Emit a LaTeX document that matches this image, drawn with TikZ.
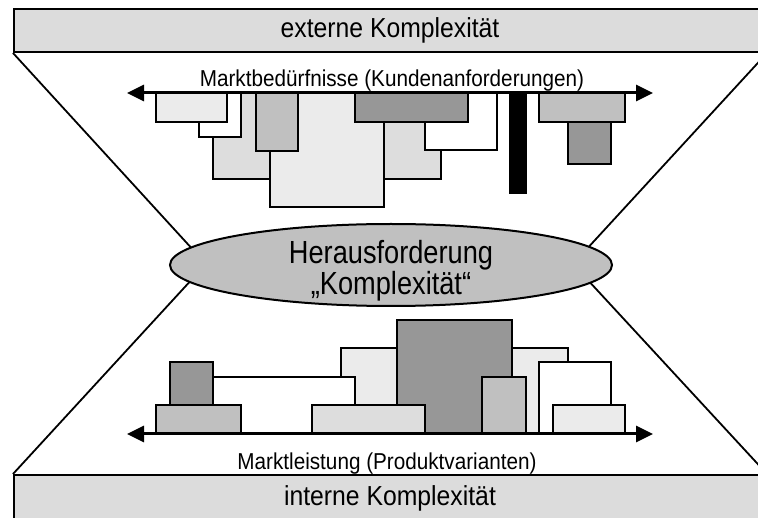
\documentclass[tikz,border=0pt]{standalone}
\usepackage{fontspec}
\setmainfont{Liberation Sans}
\newfontfamily\bandfont[FakeStretch=0.9]{Liberation Sans}
\newfontfamily\corefont[FakeStretch=0.85]{Liberation Sans}
\newfontfamily\labelfont[FakeStretch=0.9]{Liberation Sans}
\usetikzlibrary{arrows.meta,shapes.geometric}

\definecolor{barfill}{HTML}{DCDCDC}
\definecolor{vlight}{HTML}{EBEBEB}
\definecolor{light}{HTML}{DDDDDD}
\definecolor{mid}{HTML}{C0C0C0}
\definecolor{dark}{HTML}{979797}
\definecolor{challenge}{HTML}{C0C0C0}

\tikzset{
  bar/.style={draw, line width=2pt, fill=barfill, inner sep=0pt,
    font=\bandfont\fontsize{27.5}{30}\selectfont},
  side/.style={line width=1.8pt},
  axis/.style={line width=3pt, {Triangle[length=17pt,width=16pt]}-{Triangle[length=17pt,width=16pt]}},
  blk/.style={draw, line width=2pt},
  axislabel/.style={inner sep=0pt, font=\labelfont\fontsize{23}{26}\selectfont},
  challenge/.style={ellipse, draw, line width=2pt, fill=challenge, inner sep=0pt,
    minimum width=442pt, minimum height=82pt},
  coretext/.style={inner sep=0pt, align=center,
    font=\corefont\fontsize{32}{27.5}\selectfont}
}

\begin{document}
\begin{tikzpicture}[x=1pt,y=-1pt]
\useasboundingbox (0,0) rectangle (758,518);
\clip (0,0) rectangle (758,518);
\fill[white] (0,0) rectangle (758,518);

% complexity bands
\node[bar, minimum width=752pt, minimum height=43pt] (ext) at (390,30.5) {externe Komplexität};
\node[bar, minimum width=752pt, minimum height=46pt] (int) at (390,498) {interne Komplexität};

% funnel sides meeting behind the ellipse
\coordinate (lv) at (206,264);
\coordinate (rv) at (573,264);
\draw[side] (ext.south west) -- (lv) -- (int.north west);
\draw[side] (ext.south east) -- (rv) -- (int.north east);

% market needs (hanging below the upper axis)
\draw[blk, fill=light]  (213,93) rectangle (290,179);
\draw[blk, fill=light]  (375,93) rectangle (441,179);
\draw[blk, fill=white]  (425,93) rectangle (497,150);
\draw[blk, fill=vlight] (270,93) rectangle (384,207);
\draw[blk, fill=white]  (199,93) rectangle (241,137);
\draw[blk, fill=vlight] (156,93) rectangle (227,122);
\draw[blk, fill=mid]    (256,93) rectangle (298,151);
\draw[blk, fill=dark]   (355,93) rectangle (468,122);
\draw[blk, fill=black]  (510,93) rectangle (526,193);
\draw[blk, fill=dark]   (568,93) rectangle (611,164);
\draw[blk, fill=mid]    (539,93) rectangle (625,122);

\coordinate (tl) at (127,93);
\coordinate (tr) at (653,93);
\draw[axis] (tl) -- (tr);
\node[axislabel, anchor=base] (needs) at (392,87) {Marktbedürfnisse (Kundenanforderungen)};

% market offer (standing on the lower axis)
\draw[blk, fill=vlight] (341,348) rectangle (568,434);
\draw[blk, fill=white]  (213,377) rectangle (355,434);
\draw[blk, fill=dark]   (170,362) rectangle (213,434);
\draw[blk, fill=mid]    (156,405) rectangle (241,434);
\draw[blk, fill=dark]   (397,320) rectangle (512,434);
\draw[blk, fill=light]  (312,405) rectangle (425,434);
\draw[blk, fill=mid]    (482,377) rectangle (526,434);
\draw[blk, fill=white]  (539,362) rectangle (611,434);
\draw[blk, fill=vlight] (553,405) rectangle (625,434);

\coordinate (bl) at (127,434);
\coordinate (br) at (653,434);
\draw[axis] (bl) -- (br);
\node[axislabel, anchor=base] (offer) at (387,470) {Marktleistung (Produktvarianten)};

% central challenge
\node[challenge] (core) at (391,265) {};
\node[coretext] (corelabel) at (391,271) {Herausforderung\\„Komplexität“};
\end{tikzpicture}
\end{document}
